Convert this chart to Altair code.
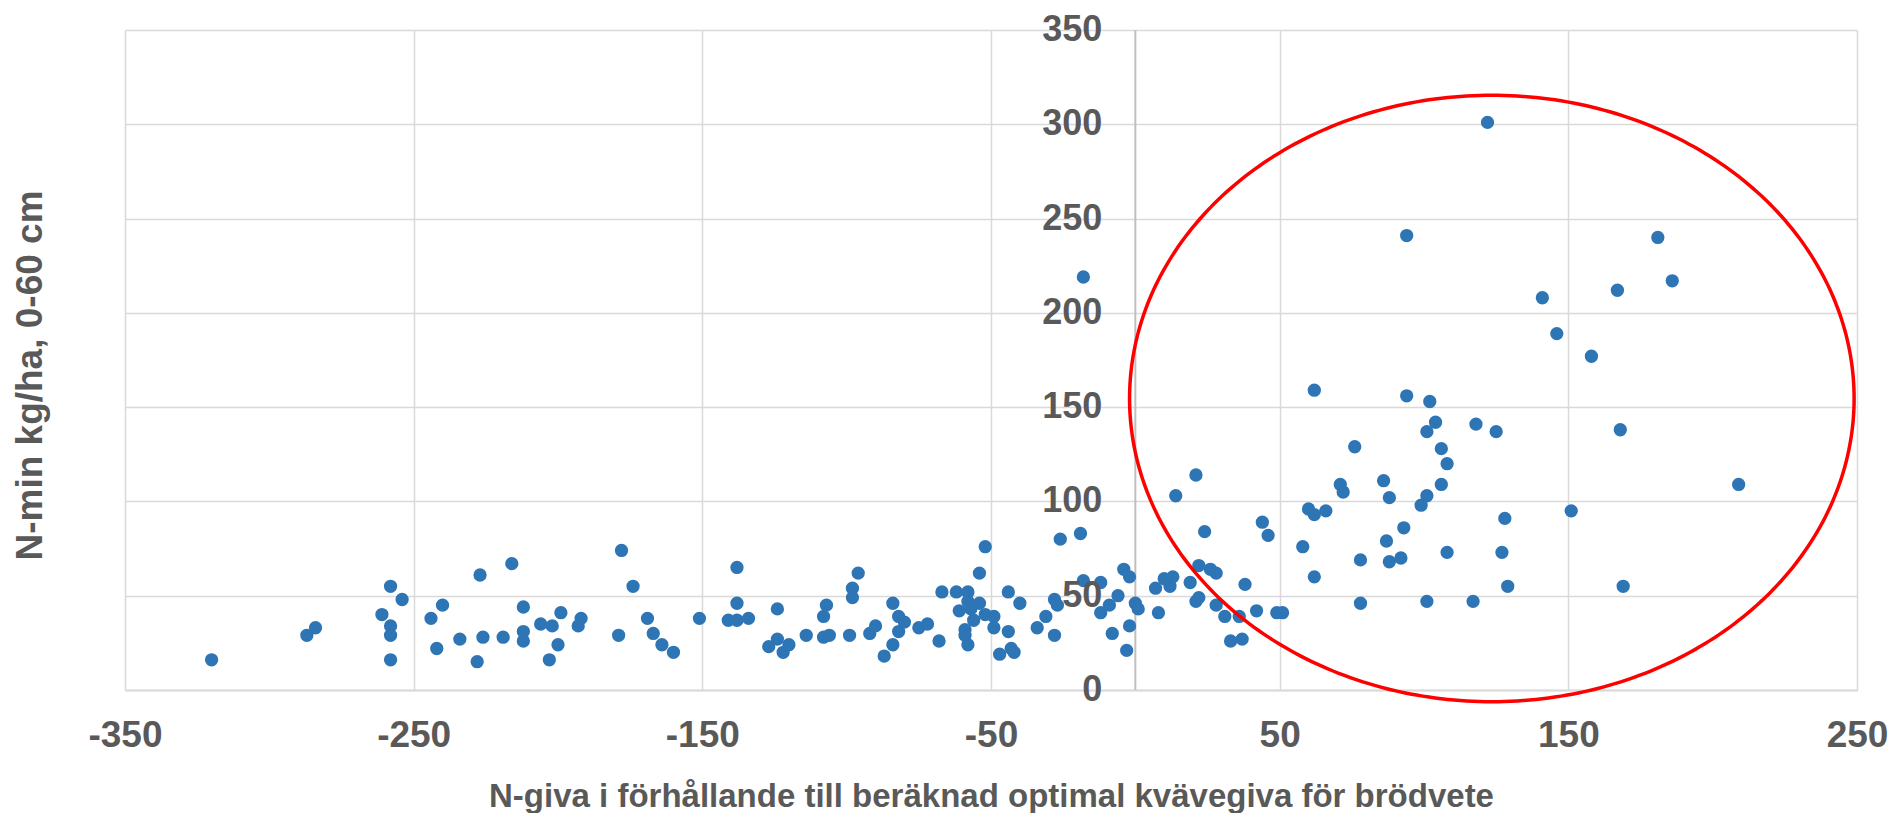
import altair as alt
import numpy as np
import pandas as pd

# ---- data ----
x_vals = [
    -320, -287, -284, -261, -258, -258, -258, -258, -254, -244, -242, -240, -234, -228, -227, -226, -219, -216, -212, -212, -212,
    -206, -202, -203, -200, -199, -193, -192, -179, -178, -174, -169, -167, -164, -160, -151, -141, -138, -138, -138, -134,
    -127, -124, -124, -122, -120, -114, -108, -108, -107, -106, -99, -98, -98, -96, -92, -90, -87, -84, -84, -82, -82, -80,
    -75, -72, -68, -67, -62, -61, -59, -59, -58, -58, -58, -57, -56, -54, -54, -52, -52, -49, -49, -47, -44, -44, -43, -42,
    -40, -34, -31, -28, -28, -27, -26, -19, -18, -18, -12, -12, -9, -8, -6, -4, -3, -2, -2, 0, 1, 7, 8, 10, 12, 13, 14, 19,
    21, 21, 22, 22, 24, 26, 28, 28, 31, 33, 36, 37, 38, 42, 44, 46, 49, 51, 58,
    60, 62, 62, 62, 66, 71, 72, 76, 78, 78, 86, 87, 88, 88, 92, 93, 94, 94, 99, 101, 101, 101, 102, 104, 106, 106, 108, 108,
    117, 118, 122, 125, 127, 128, 129, 141, 146, 151, 158, 167, 168, 169, 181, 186, 209,
]
y_vals = [
    16, 29, 33, 40, 55, 34, 29, 16, 48, 38, 22, 45, 27, 15, 61, 28, 28, 67, 44, 31, 26,
    35, 34, 16, 24, 41, 34, 38, 29, 74, 55, 38, 30, 24, 20, 38, 37, 65, 46, 37, 38,
    23, 43, 27, 20, 24, 29, 28, 39, 45, 29, 29, 54, 49, 62, 30, 34, 18, 46, 24, 39, 31, 36,
    33, 35, 26, 52, 52, 42, 32, 29, 52, 47, 24, 43, 37, 62, 46, 76, 40, 39, 33, 19, 52, 31, 22, 20,
    46, 33, 39, 48, 29, 45, 80, 83, 219, 58, 57, 41, 45, 30, 50, 64, 21, 60, 34, 46, 43, 54, 41, 59, 55, 60, 103, 57,
    47, 114, 66, 49, 84, 64, 62, 45, 39, 26, 39, 27, 56, 42, 89, 82, 41, 41, 76,
    96, 93, 60, 159, 95, 109, 105, 129, 69, 46, 111, 79, 102, 68, 70, 86, 241, 156, 98, 137, 103, 47, 153, 142, 128, 109, 120, 73,
    47, 141, 301, 137, 73, 91, 55, 208, 189, 95, 177, 212, 138, 55, 240, 217, 109,
]

x_ticks = [-350, -250, -150, -50, 50, 150, 250]
y_ticks = [0, 50, 100, 150, 200, 250, 300, 350]

x_title = "N-giva i förhållande till beräknad optimal kvävegiva för brödvete"
y_title = "N-min kg/ha, 0-60 cm"

# red annotation ellipse (centre and radii in data units)
ell_cx, ell_cy = 123.5, 154.6
ell_rx, ell_ry = 125.5, 160.8

# ---- tables ----
pts_df = pd.DataFrame({"x": x_vals, "y": y_vals})
ytick_df = pd.DataFrame({"x": [0] * len(y_ticks), "y": y_ticks})
zero_df = pd.DataFrame({"x": [0]})
t = np.linspace(0, 2 * np.pi, 361)
ell_df = pd.DataFrame({
    "x": ell_cx + ell_rx * np.cos(t),
    "y": ell_cy + ell_ry * np.sin(t),
    "i": np.arange(len(t)),
})

FONT = "Liberation Sans"
GREY = "#595959"
GRID = "#D9D9D9"

x_enc = alt.X(
    "x:Q",
    scale=alt.Scale(domain=[-350, 250], nice=False, zero=False),
    axis=alt.Axis(
        values=x_ticks, title=x_title, grid=True, gridColor=GRID, gridWidth=1.5,
        domain=True, domainColor=GRID, domainWidth=2, ticks=False, tickSize=0,
        labelExpr="replace(datum.label, '\u2212', '-')",
        labelFont=FONT, labelFontSize=37, labelFontWeight="bold", labelColor=GREY,
        labelPadding=27, labelFlush=False, labelOverlap=False,
        titleFont=FONT, titleFontSize=33, titleFontWeight="bold", titleColor=GREY,
        titlePadding=27,
    ),
)
y_enc = alt.Y(
    "y:Q",
    scale=alt.Scale(domain=[0, 350], nice=False, zero=False),
    axis=alt.Axis(
        values=y_ticks, title=y_title, grid=True, gridColor=GRID, gridWidth=1.5,
        domain=False, ticks=False, tickSize=0, labels=False,
        titleFont=FONT, titleFontSize=37, titleFontWeight="bold", titleColor=GREY,
        titlePadding=76, titleY=345,
    ),
)

zero_rule = alt.Chart(zero_df).mark_rule(color="#BFBFBF", strokeWidth=2).encode(x=x_enc)

points = alt.Chart(pts_df).mark_circle(size=177, color="#2E75B6", opacity=1).encode(x=x_enc, y=y_enc)

ylabels = alt.Chart(ytick_df).mark_text(
    align="right", baseline="middle", dx=-33, font=FONT, fontSize=36,
    fontWeight="bold", color=GREY,
).encode(x=x_enc, y=y_enc, text=alt.Text("y:Q"))

ellipse = alt.Chart(ell_df).mark_line(color="#FF0000", strokeWidth=3.5).encode(
    x=x_enc, y=y_enc, order=alt.Order("i:Q")
)

chart = alt.layer(zero_rule, points, ylabels, ellipse).properties(
    width=1732,
    height=660,
    autosize=alt.AutoSizeParams(type="none"),
    padding={"left": 117, "top": 22, "right": 33, "bottom": 123},
    background="white",
).configure_view(stroke=None)

chart.save("out.html", embed_options={"renderer": "svg", "actions": False})
